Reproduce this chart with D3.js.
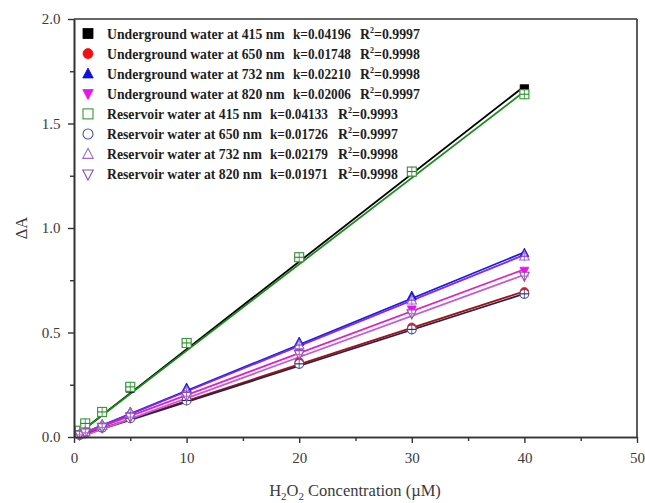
<!DOCTYPE html>
<html>
<head>
<meta charset="utf-8">
<script src="https://cdn.jsdelivr.net/npm/d3@7/dist/d3.min.js"></script>
<style>
  html, body { margin: 0; padding: 0; background: #fff; }
  svg { display: block; }
  text { font-family: "Liberation Serif", "Times New Roman", serif; }
</style>
</head>
<body>
<svg id="chart" width="645" height="503"></svg>
<script>
// H2O2 concentration (µM) for each calibration point
const concentration = [0.5, 1, 2.5, 5, 10, 20, 30, 40];

// Series names and their absorbance change values (ΔA)
const seriesNames = [
  "Underground water at 415 nm",
  "Underground water at 650 nm",
  "Underground water at 732 nm",
  "Underground water at 820 nm",
  "Reservoir water at 415 nm",
  "Reservoir water at 650 nm",
  "Reservoir water at 732 nm",
  "Reservoir water at 820 nm"
];
const ug415 = [0.03, 0.06, 0.12, 0.235, 0.45, 0.86, 1.27, 1.665];
const ug650 = [0.01, 0.02, 0.045, 0.09, 0.18, 0.36, 0.525, 0.695];
const ug732 = [0.015, 0.03, 0.06, 0.12, 0.235, 0.455, 0.675, 0.88];
const ug820 = [0.01, 0.025, 0.05, 0.10, 0.20, 0.41, 0.61, 0.795];
const rs415 = [0.03, 0.065, 0.12, 0.24, 0.45, 0.86, 1.27, 1.64];
const rs650 = [0.01, 0.02, 0.045, 0.09, 0.175, 0.35, 0.515, 0.685];
const rs732 = [0.015, 0.025, 0.055, 0.115, 0.22, 0.44, 0.655, 0.865];
const rs820 = [0.01, 0.02, 0.045, 0.095, 0.195, 0.395, 0.59, 0.77];
const seriesValues = [ug415, ug650, ug732, ug820, rs415, rs650, rs732, rs820];

// Linear fit parameters: slope k (from legend), intercept, and R²
const slopes = [0.04196, 0.01748, 0.02210, 0.02006, 0.04133, 0.01726, 0.02179, 0.01971];
const intercepts = [0.0, -0.002, 0.0, 0.0, 0.0, -0.005, 0.0, -0.012];
const rSquared = ["0.9997", "0.9998", "0.9998", "0.9997", "0.9993", "0.9997", "0.9998", "0.9998"];

// Axis ticks
const xTicks = [0, 10, 20, 30, 40, 50];
const xMinorTicks = [5, 15, 25, 35, 45];
const yTicks = [0.0, 0.5, 1.0, 1.5, 2.0];
const yMinorTicks = [0.25, 0.75, 1.25, 1.75];

// Styling per series
const markerShapes = ["square", "circle", "triangle", "triangleDown", "square", "circle", "triangle", "triangleDown"];
const markerFilled = [true, true, true, true, false, false, false, false];
const markerColors = ["#000000", "#ee1111", "#1010e0", "#ee10ee", "#3a9a3a", "#50509a", "#9a6ac8", "#8a50a8"];
const lineColors = ["#000000", "#aa1010", "#1a1ae6", "#e020c8", "#1f8a1f", "#222255", "#8a2ae0", "#c060d0"];

const svg = d3.select("#chart");
const margin = { left: 74, right: 8, top: 19, bottom: 66 };
const W = 645, H = 503;

const x = d3.scaleLinear().domain([0, 50]).range([margin.left, W - margin.right]);
const y = d3.scaleLinear().domain([0, 2]).range([H - margin.bottom, margin.top]);

const axisColor = "#333";
const labelColor = "#3a3a3a";

// Fit lines
const fitLine = d3.line().x(d => x(d[0])).y(d => y(d[1]));
const lineOrder = [0, 4, 1, 5, 2, 6, 3, 7];
lineOrder.forEach(i => {
  const x0 = concentration[0], x1 = concentration[concentration.length - 1];
  const pts = [[x0, slopes[i] * x0 + intercepts[i]], [x1, slopes[i] * x1 + intercepts[i]]];
  svg.append("path")
    .attr("d", fitLine(pts))
    .attr("fill", "none")
    .attr("stroke", lineColors[i])
    .attr("stroke-width", 1.8);
});

// Marker symbol generator (open symbols get a white interior)
function drawMarker(g, shape, cx, cy, size, color, filled) {
  const s = size / 2;
  let el;
  if (shape === "square") {
    el = g.append("rect").attr("x", cx - s).attr("y", cy - s).attr("width", size).attr("height", size);
  } else if (shape === "circle") {
    el = g.append("circle").attr("cx", cx).attr("cy", cy).attr("r", s);
  } else if (shape === "triangle") {
    el = g.append("path").attr("d", `M${cx},${cy - s * 1.15}L${cx + s * 1.05},${cy + s * 0.85}L${cx - s * 1.05},${cy + s * 0.85}Z`);
  } else {
    el = g.append("path").attr("d", `M${cx},${cy + s * 1.15}L${cx + s * 1.05},${cy - s * 0.85}L${cx - s * 1.05},${cy - s * 0.85}Z`);
  }
  if (filled) {
    el.attr("fill", color).attr("stroke", color).attr("stroke-width", 0.8);
  } else {
    el.attr("fill", "#fff").attr("stroke", color).attr("stroke-width", 1.1);
  }
  return el;
}

// Data markers: underground (filled) first, reservoir (open) on top
const markerLayer = svg.append("g");
[0, 1, 2, 3, 4, 5, 6, 7].forEach(i => {
  const g = markerLayer.append("g");
  concentration.forEach((c, j) => {
    const cx = x(c), cy = y(seriesValues[i][j]);
    drawMarker(g, markerShapes[i], cx, cy, markerFilled[i] ? 8.5 : 9, markerColors[i], markerFilled[i]);
    if (!markerFilled[i]) {
      // error bar and fit-line cross inside open markers
      g.append("line").attr("x1", cx).attr("x2", cx).attr("y1", cy - 5).attr("y2", cy + 5)
        .attr("stroke", markerColors[i]).attr("stroke-width", 0.9);
      g.append("line").attr("x1", cx - 4.5).attr("x2", cx + 4.5).attr("y1", cy).attr("y2", cy)
        .attr("stroke", lineColors[i]).attr("stroke-width", 1.1);
    }
  });
});

// Axes
const xAxis = d3.axisBottom(x).tickValues(xTicks).tickSize(6).tickSizeOuter(0).tickFormat(d3.format("d"));
const xMinor = d3.axisBottom(x).tickValues(xMinorTicks).tickSize(4).tickSizeOuter(0).tickFormat("");
const yAxis = d3.axisLeft(y).tickValues(yTicks).tickSize(6).tickSizeOuter(0).tickFormat(d3.format(".1f"));
const yMinor = d3.axisLeft(y).tickValues(yMinorTicks).tickSize(4).tickSizeOuter(0).tickFormat("");

function styleAxis(g) {
  g.selectAll(".domain").attr("stroke", axisColor).attr("stroke-width", 1.6);
  g.selectAll(".tick line").attr("stroke", axisColor).attr("stroke-width", 1.4);
  g.selectAll(".tick text").attr("fill", labelColor).attr("font-size", 15)
    .attr("font-family", "'Liberation Serif', 'Times New Roman', serif");
}

svg.append("g").attr("transform", `translate(0,${y(0)})`).call(xAxis).call(styleAxis)
  .selectAll(".tick text").attr("dy", "1.1em");
svg.append("g").attr("transform", `translate(0,${y(0)})`).call(xMinor).call(styleAxis);
svg.append("g").attr("transform", `translate(${x(0)},0)`).call(yAxis).call(styleAxis)
  .selectAll(".tick text").attr("dx", "-0.3em");
svg.append("g").attr("transform", `translate(${x(0)},0)`).call(yMinor).call(styleAxis);

// Top and right frame
svg.append("line").attr("x1", x(0)).attr("x2", x(50)).attr("y1", y(2)).attr("y2", y(2))
  .attr("stroke", axisColor).attr("stroke-width", 1.6);
svg.append("line").attr("x1", x(50)).attr("x2", x(50)).attr("y1", y(2)).attr("y2", y(0))
  .attr("stroke", axisColor).attr("stroke-width", 1.6);

// Axis titles
const xTitle = svg.append("text")
  .attr("x", 355).attr("y", 496)
  .attr("text-anchor", "middle")
  .attr("font-size", 16.5)
  .attr("fill", labelColor);
xTitle.append("tspan").text("H");
xTitle.append("tspan").attr("font-size", 11).attr("dy", 4).text("2");
xTitle.append("tspan").attr("dy", -4).text("O");
xTitle.append("tspan").attr("font-size", 11).attr("dy", 4).text("2");
xTitle.append("tspan").attr("dy", -4).text(" Concentration (\u00B5M)");

svg.append("text")
  .attr("transform", `translate(27,${(y(0) + y(2)) / 2}) rotate(-90)`)
  .attr("text-anchor", "middle")
  .attr("font-size", 16.5)
  .attr("fill", labelColor)
  .attr("font-family", "'Liberation Sans', Arial, sans-serif")
  .text("\u0394A");

// Legend: series name, slope and R² laid out in three columns.
// Each piece is squeezed horizontally to its column width.
function fitText(t, left, baseline, width) {
  const natural = t.node().getComputedTextLength();
  const sx = Math.min(1.05, width / natural);
  t.attr("transform", `translate(${left},${baseline}) scale(${sx},1)`);
}

const legend = svg.append("g")
  .attr("font-size", 15.5).attr("font-weight", "bold").attr("fill", "#1e1e1e");
seriesNames.forEach((name, i) => {
  const ly = 33.5 + i * 20.1;
  const isUG = i < 4;
  const kX = isUG ? 293 : 270;
  const rX = isUG ? 360 : 338;
  drawMarker(legend, markerShapes[i], 88, ly, 10, markerColors[i], markerFilled[i]);
  const nameText = legend.append("text").text(name);
  fitText(nameText, 107, ly + 5, isUG ? 178 : 155);
  const kText = legend.append("text").text(`k=${slopes[i].toFixed(5)}`);
  fitText(kText, kX, ly + 5, 58);
  const rText = legend.append("text");
  rText.append("tspan").text("R");
  rText.append("tspan").attr("font-size", 9).attr("dy", -6).text("2");
  rText.append("tspan").attr("dy", 6).text(`=${rSquared[i]}`);
  fitText(rText, rX, ly + 5, 60);
});
</script>
</body>
</html>
